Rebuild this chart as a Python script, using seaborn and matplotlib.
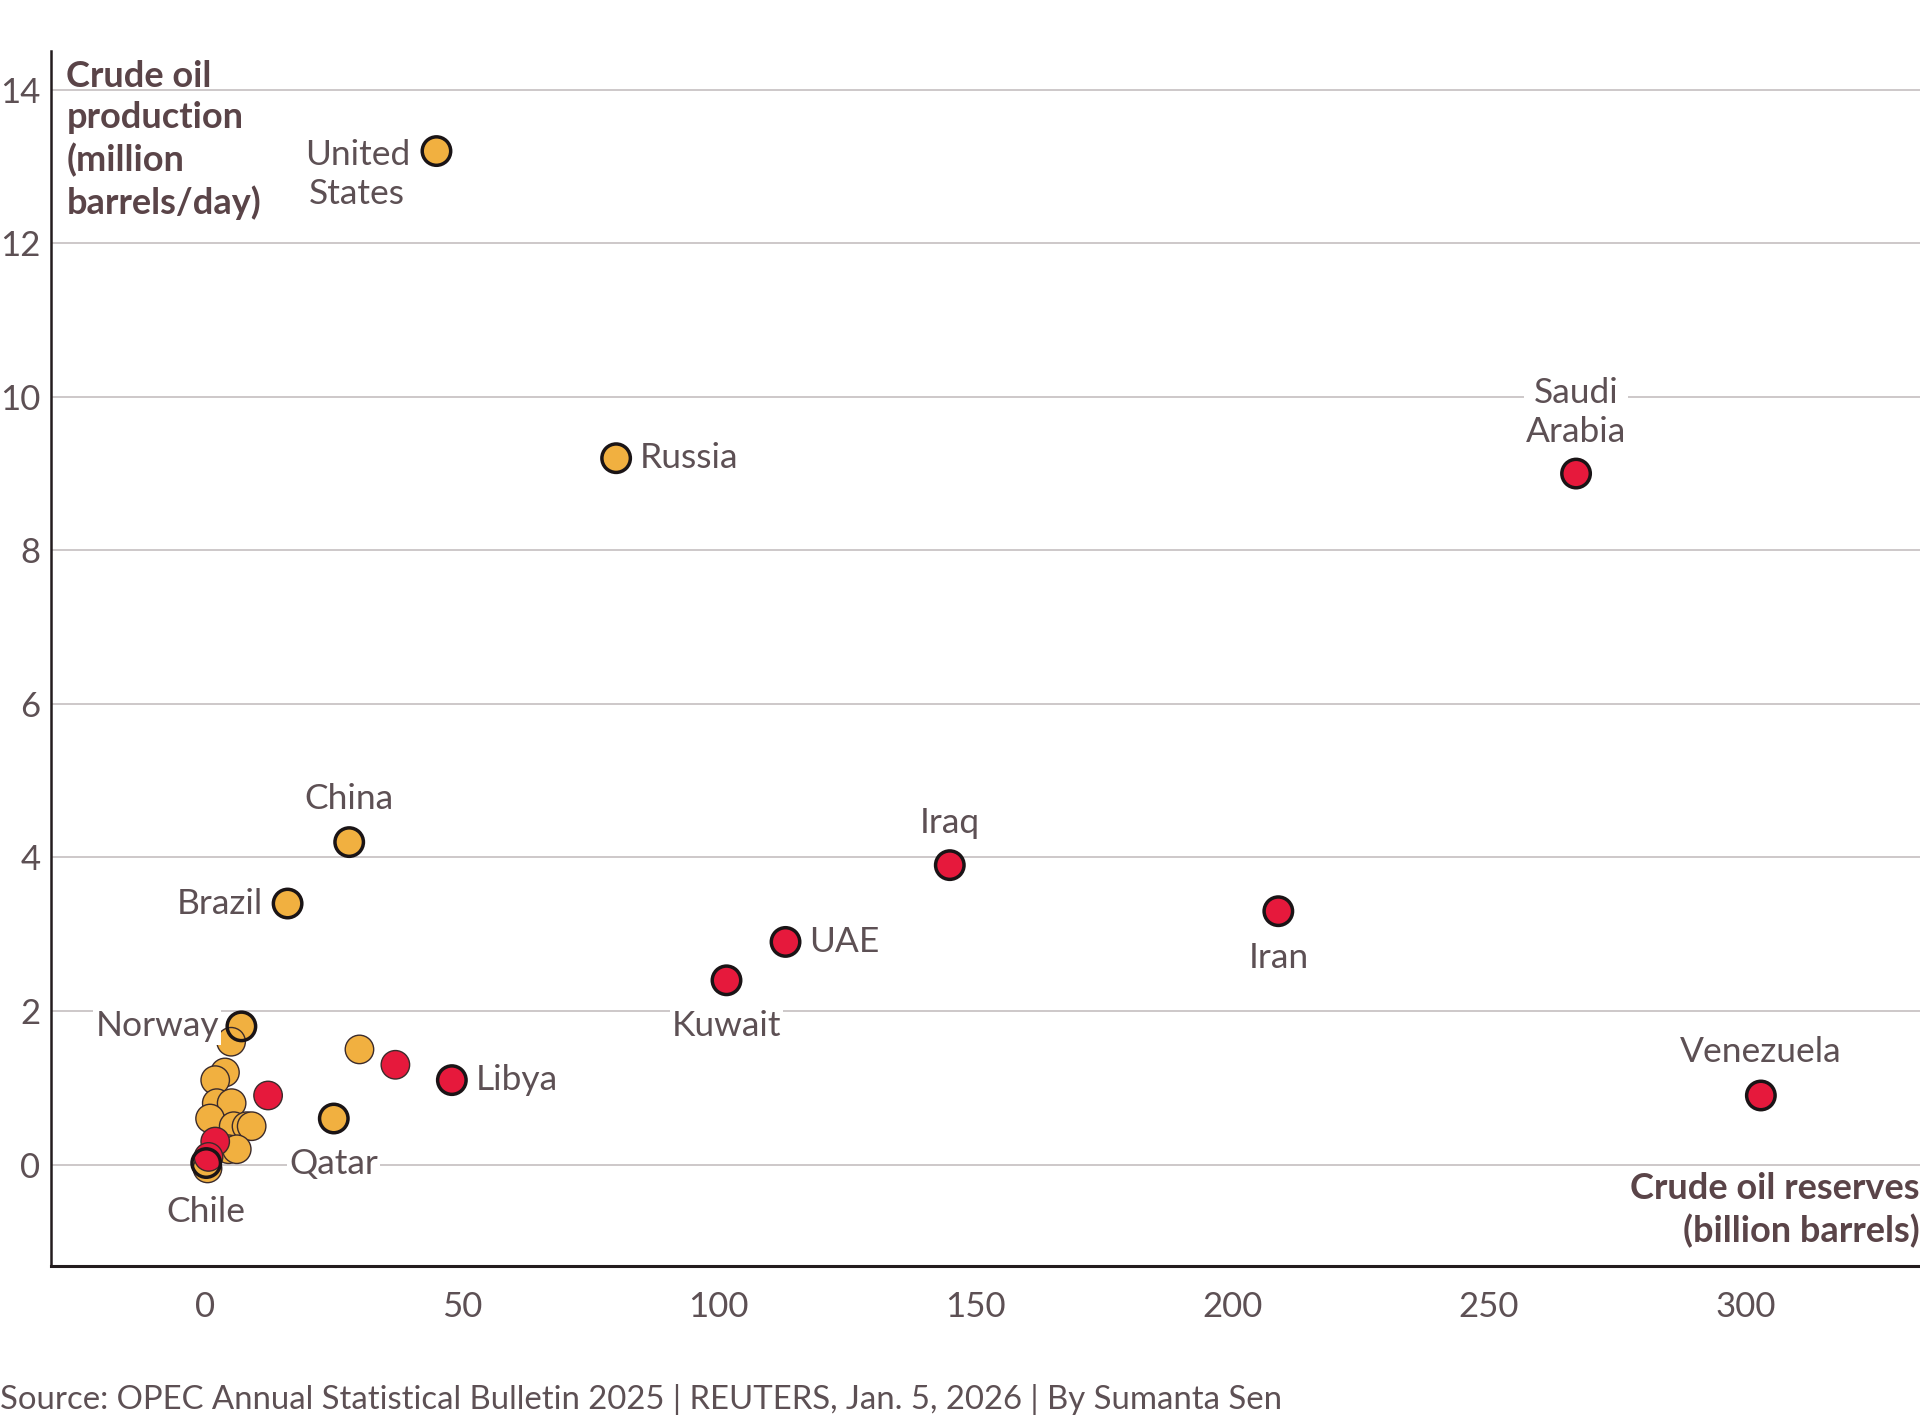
import pandas as pd
import matplotlib.pyplot as plt
import seaborn as sns

# crude oil reserves (billion barrels) vs production (million barrels/day)
non_opec_names = ["United States", "Russia", "China", "Brazil", "Norway", "Kazakhstan",
                  "Qatar", "Chile", "", "", "", "", "", "", "", "", "", "", "", ""]
non_opec_reserves = [45, 80, 28, 16, 7, 30, 25, 0.15, 5.0, 3.8, 1.9, 2.2, 5.1, 0.9,
                     5.5, 8.0, 9.0, 4.5, 6.1, 0.4]
non_opec_prod = [13.2, 9.2, 4.2, 3.4, 1.8, 1.5, 0.6, 0.02, 1.6, 1.2, 1.1, 0.8, 0.8, 0.6,
                 0.5, 0.5, 0.5, 0.2, 0.2, -0.05]

opec_names = ["Saudi Arabia", "Iraq", "Iran", "UAE", "Kuwait", "Venezuela", "Libya",
              "Nigeria", "Algeria", "", ""]
opec_reserves = [267, 145, 209, 113, 101.5, 303, 48, 37, 12.2, 1.9, 0.6]
opec_prod = [9.0, 3.9, 3.3, 2.9, 2.4, 0.9, 1.1, 1.3, 0.9, 0.3, 0.1]

labels = {
    "United States": ("United\nStates", (-57, -17), "center"),
    "Russia": ("Russia", (17, 0), "left"),
    "Saudi Arabia": ("Saudi\nArabia", (0, 44), "center"),
    "China": ("China", (0, 31), "center"),
    "Brazil": ("Brazil", (-18, 0), "right"),
    "Iraq": ("Iraq", (0, 30), "center"),
    "Iran": ("Iran", (0, -34), "center"),
    "UAE": ("UAE", (17, 0), "left"),
    "Kuwait": ("Kuwait", (0, -33), "center"),
    "Norway": ("Norway", (-16, 0), "right"),
    "Venezuela": ("Venezuela", (0, 31), "center"),
    "Libya": ("Libya", (17, 0), "left"),
    "Qatar": ("Qatar", (0, -33), "center"),
    "Chile": ("Chile", (0, -35), "center"),
}

df = pd.concat([
    pd.DataFrame({"name": non_opec_names, "reserves": non_opec_reserves,
                  "production": non_opec_prod, "group": "Non-OPEC"}),
    pd.DataFrame({"name": opec_names, "reserves": opec_reserves,
                  "production": opec_prod, "group": "OPEC"}),
], ignore_index=True)

ORANGE = "#F1B040"
RED = "#E6193C"
TEXT = "#5d5054"
TITLE = "#5a4448"
SIZE = 420

sns.set_theme(style="white")
plt.rcParams["font.family"] = ["Lato", "DejaVu Sans"]

fig = plt.figure(figsize=(19.2, 14.24), dpi=100)
ax = fig.add_axes([0.0268, 0.111, 0.9732, 0.853])

sns.scatterplot(data=df, x="reserves", y="production", hue="group",
                palette={"Non-OPEC": ORANGE, "OPEC": RED}, s=SIZE,
                edgecolor="#3b2b2b", linewidth=1.0, legend=False, zorder=3, ax=ax)

# black rings on labelled points
lab = df[df["name"].isin(labels.keys())]
ax.scatter(lab["reserves"], lab["production"], s=SIZE, facecolors="none",
           edgecolors="#1a1416", linewidths=2.5, zorder=4)

for _, r in lab.iterrows():
    txt, off, ha = labels[r["name"]]
    ax.annotate(txt, (r["reserves"], r["production"]), xytext=off,
                textcoords="offset points", ha=ha, va="center", multialignment="center",
                fontsize=25.5, color=TEXT, zorder=5, linespacing=1.25,
                bbox=dict(fc="white", ec="none", pad=1.5))

ax.set_xlim(-30, 334)
ax.set_ylim(-1.32, 14.5)
ax.set_xticks(range(0, 301, 50))
ax.set_yticks(range(0, 15, 2))
ax.yaxis.grid(True, color="#c9c4c5", linewidth=1.3, zorder=0)
ax.set_axisbelow(True)
ax.tick_params(axis="both", length=0, labelsize=25, labelcolor=TEXT)
ax.tick_params(axis="y", pad=8)
ax.tick_params(axis="x", pad=18)
for side in ["top", "right"]:
    ax.spines[side].set_visible(False)
for side in ["left", "bottom"]:
    ax.spines[side].set_color("#231c1e")
ax.spines["left"].set_linewidth(1.8)
ax.spines["bottom"].set_linewidth(2.2)
ax.set_xlabel("")
ax.set_ylabel("")

ax.text(0.008, 0.993, "Crude oil\nproduction\n(million\nbarrels/day)", transform=ax.transAxes,
        ha="left", va="top", fontsize=26, fontweight="bold", color=TITLE, linespacing=1.3)
ax.text(1.0, 0.077, "Crude oil reserves\n(billion barrels)", transform=ax.transAxes,
        ha="right", va="top", fontsize=26, fontweight="bold", color=TITLE,
        multialignment="right", linespacing=1.3)

fig.text(0.0, 0.006, "Source: OPEC Annual Statistical Bulletin 2025 | REUTERS, Jan. 5, 2026 | By Sumanta Sen",
         ha="left", va="bottom", fontsize=23.7, color=TEXT)

fig.savefig("out.png", dpi=100, facecolor="white")
plt.close()
